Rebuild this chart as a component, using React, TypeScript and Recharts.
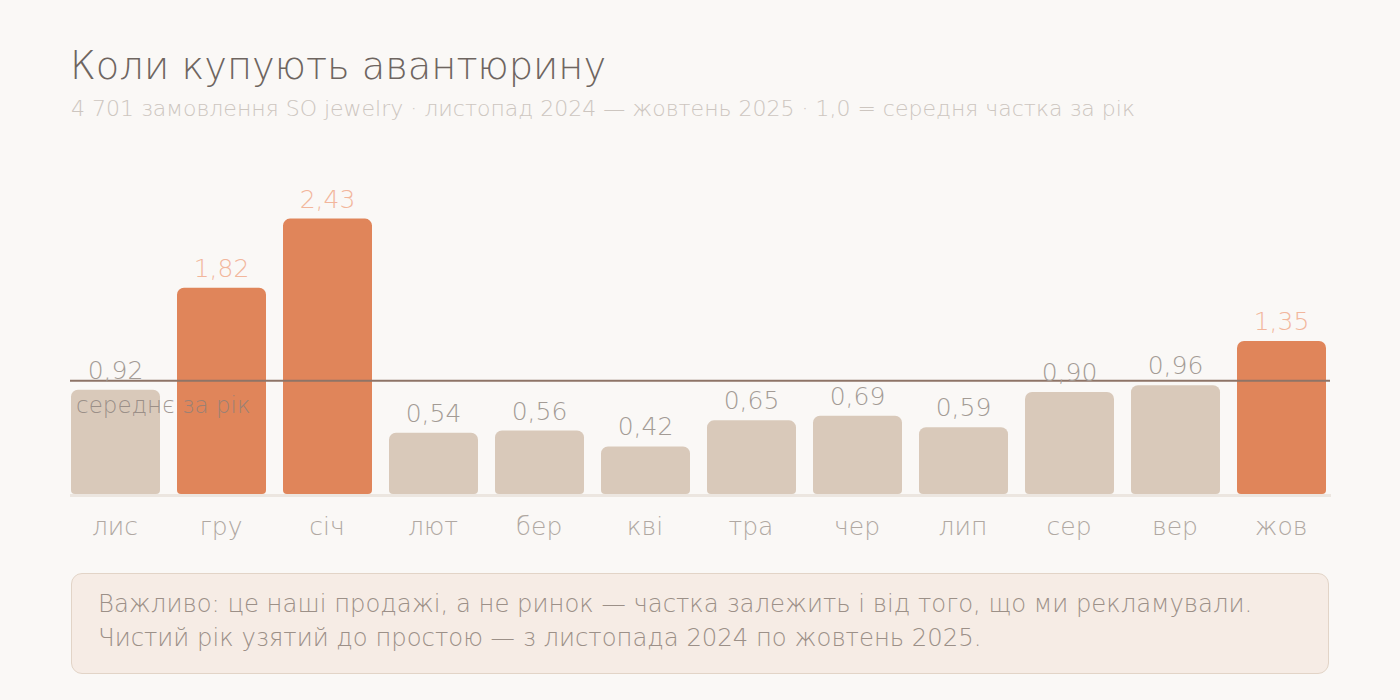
import React from 'react';
import { BarChart, Bar, XAxis, YAxis, ReferenceLine, LabelList, Cell } from 'recharts';

const months = ['лис', 'гру', 'січ', 'лют', 'бер', 'кві', 'тра', 'чер', 'лип', 'сер', 'вер', 'жов'];
const shares = [0.92, 1.82, 2.43, 0.54, 0.56, 0.42, 0.65, 0.69, 0.59, 0.9, 0.96, 1.35];
const peakMonths = ['гру', 'січ', 'жов'];
const yDomain = [0, 3];
const averageLevel = 1;

const title = 'Коли купують авантюрину';
const subtitle = '4 701 замовлення SO jewelry · листопад 2024 — жовтень 2025 · 1,0 = середня частка за рік';
const noteLines = [
  'Важливо: це наші продажі, а не ринок — частка залежить і від того, що ми рекламували.',
  'Чистий рік узятий до простою — з листопада 2024 по жовтень 2025.',
];
const averageLabel = 'середнє за рік';

const data = months.map((m, i) => ({ month: m, share: shares[i], peak: peakMonths.includes(m) }));

const FONT = '"DejaVu Sans", sans-serif';
const W = 200;
const ORANGE = '#E0855A';
const BEIGE = '#D9C9BA';

const fmt = (v: number) => v.toFixed(2).replace('.', ',');

const ValueLabel = (props: any) => {
  const { x, y, width, value, index } = props;
  const peak = data[index]?.peak;
  return (
    <text
      x={x + width / 2}
      y={y - 11}
      textAnchor="middle"
      fontFamily={FONT}
      fontWeight={W}
      fontSize={25}
      fill={peak ? '#F2B69C' : '#A39B95'}
    >
      {fmt(value)}
    </text>
  );
};

const MonthTick = (props: any) => {
  const { x, y, payload } = props;
  return (
    <text x={x} y={y + 41} textAnchor="middle" fontFamily={FONT} fontWeight={W} fontSize={25} fill="#B0A8A2">
      {payload.value}
    </text>
  );
};

const AvgLine = (props: any) => {
  const { x1, x2, y1 } = props;
  return <line x1={x1 + 8} x2={x2 - 4} y1={y1} y2={y1} stroke="#8E7467" strokeWidth={2} />;
};

const BaseLine = (props: any) => {
  const { x1, x2, y1 } = props;
  return <line x1={x1 + 8} x2={x2 - 3} y1={y1 + 1.5} y2={y1 + 1.5} stroke="#ECE6E0" strokeWidth={3} />;
};

const AvgLabel = (props: any) => {
  const { viewBox } = props;
  return (
    <text
      x={viewBox.x + 14}
      y={viewBox.y + 32}
      fontFamily={FONT}
      fontWeight={W}
      fontSize={23}
      fill="#8A807B"
      fillOpacity={0.8}
    >
      {averageLabel}
    </text>
  );
};

export default function App() {
  return (
    <div
      style={{
        position: 'fixed',
        left: 0,
        top: 0,
        width: 1400,
        height: 700,
        background: '#FAF8F6',
        fontFamily: FONT,
        fontWeight: W,
        overflow: 'hidden',
      }}
    >
      <div
        style={{
          position: 'absolute',
          left: 70,
          top: 40,
          fontSize: 38.4,
          color: '#6E6560',
          lineHeight: '52px',
          whiteSpace: 'nowrap',
        }}
      >
        {title}
      </div>
      <div
        style={{
          position: 'absolute',
          left: 71,
          top: 94,
          fontSize: 22,
          color: '#CDC6C0',
          lineHeight: '30px',
          whiteSpace: 'nowrap',
        }}
      >
        {subtitle}
      </div>
      <div style={{ position: 'absolute', left: 0, top: 0 }}>
        <BarChart
          width={1400}
          height={700}
          data={data}
          margin={{ top: 154, right: 66, bottom: 166, left: 62 }}
          barSize={89}
        >
          <YAxis hide domain={yDomain} type="number" />
          <XAxis
            dataKey="month"
            height={40}
            axisLine={false}
            tickLine={false}
            tickSize={0}
            tickMargin={0}
            tick={<MonthTick />}
            interval={0}
          />
          <ReferenceLine y={0} shape={BaseLine} />
          <Bar dataKey="share" radius={[7, 7, 4, 4]} isAnimationActive={false}>
            {data.map((d) => (
              <Cell key={d.month} fill={d.peak ? ORANGE : BEIGE} />
            ))}
            <LabelList dataKey="share" content={<ValueLabel />} />
          </Bar>
          <ReferenceLine y={averageLevel} shape={AvgLine} label={<AvgLabel />} />
        </BarChart>
      </div>
      <div
        style={{
          position: 'absolute',
          left: 71,
          top: 573,
          width: 1258,
          height: 101,
          boxSizing: 'border-box',
          background: '#F6ECE5',
          border: '1.5px solid #E2D4C7',
          borderRadius: 11,
          padding: '13px 0 0 26px',
          color: '#9C9088',
          fontSize: 24.3,
          lineHeight: '34px',
          whiteSpace: 'nowrap',
        }}
      >
        <div>{noteLines[0]}</div>
        <div>{noteLines[1]}</div>
      </div>
    </div>
  );
}
